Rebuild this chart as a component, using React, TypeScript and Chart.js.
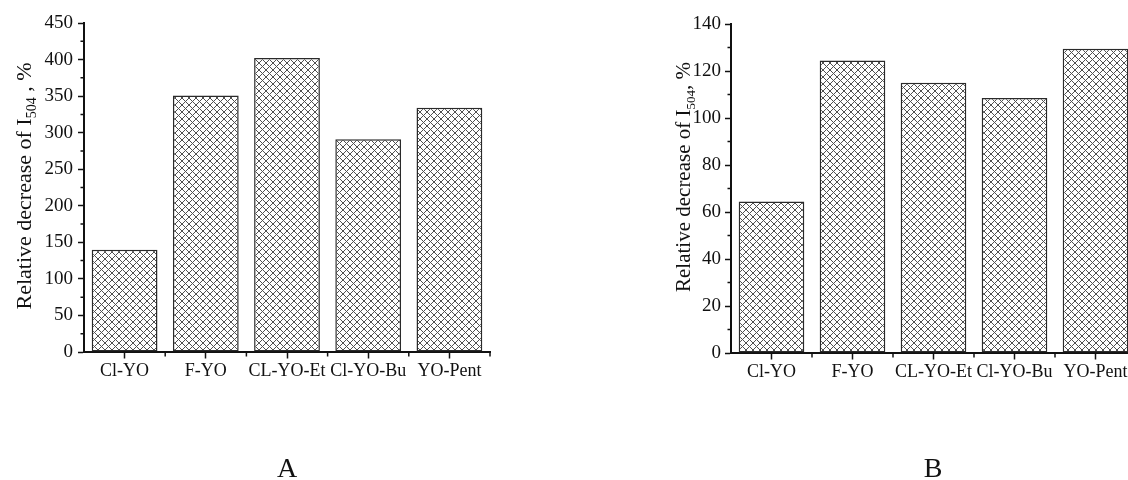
import React, { useEffect, useRef } from "react";
import { Chart, registerables } from "chart.js";

Chart.register(...registerables);

// Compounds on the category axis
const categories = ["Cl-YO", "F-YO", "CL-YO-Et", "Cl-YO-Bu", "YO-Pent"];

// Relative decrease of I504 (%) for each compound, panel A and panel B
const decreaseA = [140, 351, 402, 291, 334];
const decreaseB = [64.5, 124.5, 115, 108.5, 129.5];

// Value-axis ranges and major tick steps
const yMaxA = 450;
const yStepA = 50;
const yMaxB = 140;
const yStepB = 20;

// Axis title pieces (the subscript is drawn smaller and lowered)
const titleBefore = "Relative decrease of I";
const titleSub = "504";
const titleAfterA = " , %";
const titleAfterB = ", %";

const FONT = '"Liberation Serif", "Times New Roman", serif';
const INK = "#111";

function makeCrosshatch(): CanvasPattern | string {
  const s = 7;
  const tile = document.createElement("canvas");
  tile.width = s;
  tile.height = s;
  const c = tile.getContext("2d");
  if (!c) return "#999";
  c.fillStyle = "#fff";
  c.fillRect(0, 0, s, s);
  c.strokeStyle = "#505050";
  c.lineWidth = 1;
  c.beginPath();
  c.moveTo(-1, -1);
  c.lineTo(s + 1, s + 1);
  c.moveTo(-1, s + 1);
  c.lineTo(s + 1, -1);
  c.stroke();
  const p = c.createPattern(tile, "repeat");
  return p || "#999";
}

type PanelOpts = {
  title: { x: number; cy: number; size: number; subSize: number; subShift: number; after: string };
  letter: { text: string; x: number; y: number };
  yStep: number;
  yMax: number;
};

function panelPlugin(o: PanelOpts) {
  return {
    id: "panelDecor",
    afterDraw(chart: any) {
      const { ctx, chartArea } = chart;
      const x = chart.scales.x;
      const y = chart.scales.y;
      ctx.save();
      // minor ticks on the value axis
      ctx.strokeStyle = INK;
      ctx.lineWidth = 1.5;
      ctx.beginPath();
      for (let v = o.yStep / 2; v < o.yMax; v += o.yStep) {
        const py = y.getPixelForValue(v);
        ctx.moveTo(chartArea.left, py);
        ctx.lineTo(chartArea.left - 3.5, py);
      }
      // short ticks on category boundaries
      const n = categories.length;
      const w = (x.right - x.left) / n;
      for (let k = 1; k <= n; k++) {
        const px = x.left + k * w;
        ctx.moveTo(px, chartArea.bottom);
        ctx.lineTo(px, chartArea.bottom + 4.5);
      }
      ctx.stroke();

      // rotated value-axis title with subscript
      const t = o.title;
      const mainFont = `${t.size}px ${FONT}`;
      const subFont = `${t.subSize}px ${FONT}`;
      ctx.font = mainFont;
      const w1 = ctx.measureText(titleBefore).width;
      const w3 = ctx.measureText(t.after).width;
      ctx.font = subFont;
      const w2 = ctx.measureText(titleSub).width;
      ctx.translate(t.x, t.cy);
      ctx.rotate(-Math.PI / 2);
      ctx.fillStyle = INK;
      ctx.textAlign = "left";
      ctx.textBaseline = "alphabetic";
      let cx = -(w1 + w2 + w3) / 2;
      ctx.font = mainFont;
      ctx.fillText(titleBefore, cx, 0);
      cx += w1;
      ctx.font = subFont;
      ctx.fillText(titleSub, cx, t.subShift);
      cx += w2;
      ctx.font = mainFont;
      ctx.fillText(t.after, cx, 0);
      ctx.setTransform(1, 0, 0, 1, 0, 0);

      // panel letter
      ctx.font = `28px ${FONT}`;
      ctx.textAlign = "center";
      ctx.fillText(o.letter.text, o.letter.x, o.letter.y);
      ctx.restore();
    },
  };
}

function buildConfig(
  values: number[],
  yMax: number,
  yStep: number,
  yWidth: number,
  xHeight: number,
  pad: { top: number; right: number },
  tickPad: number,
  plugin: any
): any {
  return {
    type: "bar",
    data: {
      labels: categories,
      datasets: [
        {
          data: values,
          backgroundColor: makeCrosshatch(),
          borderColor: "#2a2a2a",
          borderWidth: 1.5,
          borderSkipped: false,
          categoryPercentage: 1,
          barPercentage: 0.81,
        },
      ],
    },
    options: {
      responsive: false,
      animation: false,
      devicePixelRatio: 1,
      layout: { padding: { left: 0, top: pad.top, right: pad.right, bottom: 0 } },
      plugins: { legend: { display: false }, tooltip: { enabled: false } },
      scales: {
        x: {
          offset: true,
          grid: {
            offset: false,
            drawOnChartArea: false,
            drawTicks: true,
            tickLength: 6.5,
            tickWidth: 1.5,
            tickColor: INK,
          },
          border: { display: true, color: INK, width: 2 },
          ticks: {
            color: INK,
            font: { family: FONT, size: 18 },
            padding: 2,
            maxRotation: 0,
            autoSkip: false,
          },
          afterFit(scale: any) {
            scale.height = xHeight;
          },
        },
        y: {
          min: 0,
          max: yMax,
          grid: {
            drawOnChartArea: false,
            drawTicks: true,
            tickLength: 6,
            tickWidth: 1.5,
            tickColor: INK,
          },
          border: { display: true, color: INK, width: 2 },
          ticks: {
            stepSize: yStep,
            color: INK,
            font: { family: FONT, size: 19 },
            padding: tickPad,
          },
          afterFit(scale: any) {
            scale.width = yWidth;
          },
        },
      },
    },
    plugins: [plugin],
  };
}

function Panel(props: { left: number; width: number; config: () => any }) {
  const ref = useRef<HTMLCanvasElement | null>(null);
  useEffect(() => {
    if (!ref.current) return;
    const chart = new Chart(ref.current, props.config());
    return () => chart.destroy();
  }, []);
  return (
    <canvas
      ref={ref}
      width={props.width}
      height={480}
      style={{ position: "absolute", left: props.left, top: 0, width: props.width, height: 480 }}
    />
  );
}

export default function App() {
  const configA = () =>
    buildConfig(
      decreaseA,
      yMaxA,
      yStepA,
      84,
      128,
      { top: 23, right: 564 - 490 },
      5,
      panelPlugin({
        title: { x: 31, cy: 186, size: 22, subSize: 14, subShift: 5, after: titleAfterA },
        letter: { text: "A", x: 287, y: 477 },
        yStep: yStepA,
        yMax: yMaxA,
      })
    );
  const configB = () =>
    buildConfig(
      decreaseB,
      yMaxB,
      yStepB,
      731 - 564,
      127,
      { top: 24, right: 1184 - 1136 },
      4,
      panelPlugin({
        title: { x: 690 - 564, cy: 177, size: 21, subSize: 13, subShift: 5, after: titleAfterB },
        letter: { text: "B", x: 933 - 564, y: 477 },
        yStep: yStepB,
        yMax: yMaxB,
      })
    );
  return (
    <div
      style={{
        position: "absolute",
        left: 0,
        top: 0,
        width: 1128,
        height: 480,
        overflow: "hidden",
        background: "#fff",
      }}
    >
      <Panel left={0} width={564} config={configA} />
      <Panel left={564} width={620} config={configB} />
    </div>
  );
}
